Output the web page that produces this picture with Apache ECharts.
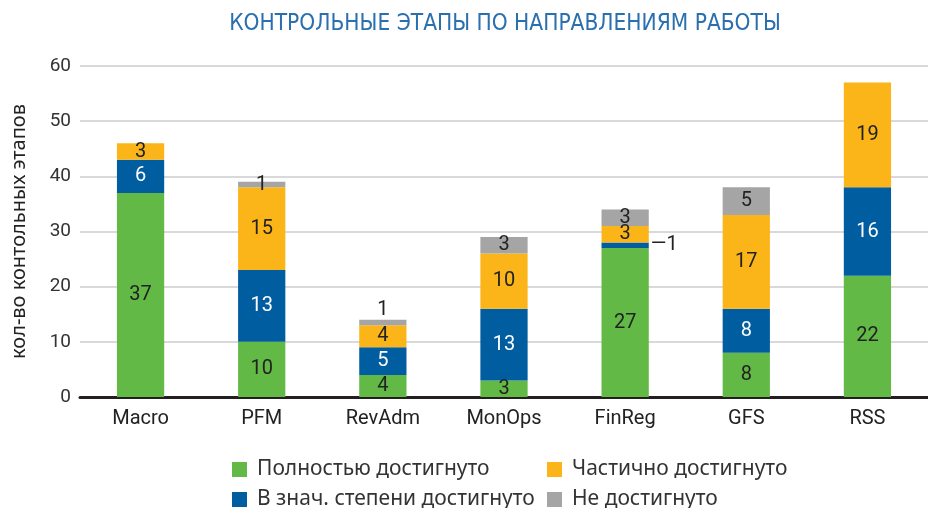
<!DOCTYPE html>
<html>
<head>
<meta charset="utf-8">
<script src="https://cdn.jsdelivr.net/npm/echarts@6/dist/echarts.min.js"></script>
<style>
  html, body { margin: 0; padding: 0; background: #fff; }
  #chart { width: 928px; height: 508px; }
</style>
</head>
<body>
<div id="chart"></div>
<script>
// data
const categories = ['Macro', 'PFM', 'RevAdm', 'MonOps', 'FinReg', 'GFS', 'RSS']
const seriesNames = ['Полностью достигнуто', 'В знач. степени достигнуто', 'Частично достигнуто', 'Не достигнуто']
const fullyDone = [37, 10, 4, 3, 27, 8, 22]
const mostlyDone = [6, 13, 5, 13, 1, 8, 16]
const partlyDone = [3, 15, 4, 10, 3, 17, 19]
const notDone = [0, 1, 1, 3, 3, 5, 0]
const yTicks = [0, 10, 20, 30, 40, 50, 60]

const colors = ['#62b946', '#005da0', '#fcb518', '#a5a5a5']
const labelColors = ['#222222', '#ffffff', '#222222', '#222222']
const font = 'Roboto, "Noto Sans", sans-serif'
const wideFont = '"Noto Sans", Roboto, sans-serif'

const chart = echarts.init(document.getElementById('chart'))

// labels that sit outside their segment in the reference
const labelOverrides = {
  '1-4': { position: 'right', distance: 2, formatter: '—{c}', color: '#222222' },
  '3-2': { position: 'top', distance: 0 }
}

function makeSeries(values, idx) {
  return {
    name: seriesNames[idx],
    type: 'bar',
    stack: 'total',
    barWidth: '39%',
    itemStyle: { color: colors[idx] },
    label: {
      show: true,
      position: 'inside',
      color: labelColors[idx],
      fontFamily: font,
      fontSize: 20,
      formatter(p) {
        return p.value > 0 ? p.value : ''
      }
    },
    data: values.map((v, i) => {
      const ov = labelOverrides[idx + '-' + i]
      return ov ? { value: v, label: ov } : v
    })
  }
}

// one legend per item so the two rows line up like the reference
const legendPos = [
  { left: 227, top: 454 },
  { left: 227, top: 484 },
  { left: 542, top: 454 },
  { left: 542, top: 484 }
]
const legends = seriesNames.map((name, i) => ({
  data: [name],
  left: legendPos[i].left,
  top: legendPos[i].top,
  icon: 'rect',
  itemWidth: 15,
  itemHeight: 15,
  selectedMode: false,
  textStyle: { fontFamily: wideFont, fontSize: 21, color: '#333333', padding: [0, 0, 0, 5] }
}))

const option = {
  backgroundColor: '#ffffff',
  animation: false,
  title: {
    text: 'КОНТРОЛЬНЫЕ ЭТАПЫ ПО НАПРАВЛЕНИЯМ РАБОТЫ',
    left: 500,
    top: 8,
    textAlign: 'center',
    textStyle: {
      fontFamily: '"Liberation Sans Narrow", "DejaVu Sans Condensed", sans-serif',
      fontWeight: 'normal',
      fontSize: 22.5,
      color: '#2a6fae'
    }
  },
  legend: legends,
  grid: {
    left: 80,
    right: -9,
    top: 66,
    bottom: 111
  },
  xAxis: {
    type: 'category',
    data: categories,
    axisTick: { show: false },
    axisLine: { lineStyle: { color: '#231f20', width: 3 } },
    axisLabel: { margin: 12, fontFamily: font, fontSize: 20, color: '#222222' }
  },
  yAxis: {
    type: 'value',
    min: yTicks[0],
    max: yTicks[yTicks.length - 1],
    interval: 10,
    name: 'кол-во контольных этапов',
    nameLocation: 'middle',
    nameGap: 51,
    nameRotate: 90,
    nameTextStyle: { fontFamily: wideFont, fontSize: 20, color: '#222222' },
    axisLine: { show: false },
    axisTick: { show: false },
    axisLabel: { margin: 9, fontFamily: font, fontSize: 19, color: '#333333' },
    splitLine: { lineStyle: { color: '#cccccc', width: 1.5 } }
  },
  series: [fullyDone, mostlyDone, partlyDone, notDone].map(makeSeries)
}

chart.setOption(option)
</script>
</body>
</html>
